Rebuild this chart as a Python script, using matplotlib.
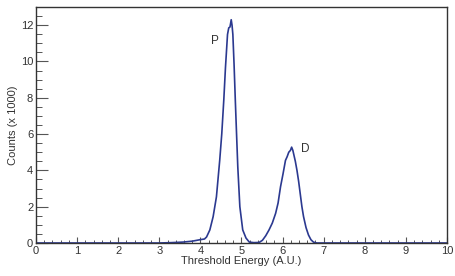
import matplotlib
matplotlib.use("Agg")
from matplotlib import pyplot as plt
from matplotlib.ticker import MultipleLocator

plt.rcParams['font.family'] = ['Liberation Sans', 'DejaVu Sans']

# spectrum (energy in A.U., counts in thousands)
energy = [0.0, 1.0, 2.0, 3.0, 3.3, 3.58, 3.8, 3.99, 4.1, 4.15, 4.23, 4.31, 4.39, 4.47,
          4.52, 4.57, 4.61, 4.66, 4.69, 4.72, 4.75, 4.77, 4.79, 4.82, 4.85, 4.88,
          4.91, 4.96, 5.03, 5.11, 5.19, 5.3, 5.43, 5.51, 5.59, 5.67, 5.75, 5.83,
          5.89, 5.95, 6.01, 6.07, 6.11, 6.15, 6.19, 6.22, 6.25, 6.27, 6.31, 6.35,
          6.39, 6.43, 6.47, 6.51, 6.57, 6.63, 6.69, 6.75, 6.83, 7.0, 8.0, 9.0, 10.0]
counts = [0.0, 0.0, 0.0, 0.0, 0.02, 0.05, 0.1, 0.18, 0.22, 0.33, 0.72, 1.45, 2.54, 4.55,
          6.01, 7.9, 9.66, 11.49, 11.85, 11.9, 12.3, 12.0, 11.49, 9.8, 7.84, 6.0,
          4.19, 2.0, 0.72, 0.27, 0.05, 0.02, 0.03, 0.15, 0.4, 0.72, 1.1, 1.63,
          2.2, 3.1, 3.8, 4.55, 4.75, 5.0, 5.1, 5.28, 5.1, 4.9, 4.5, 4.0,
          3.4, 2.7, 2.0, 1.45, 0.85, 0.44, 0.18, 0.05, 0.0, 0.0, 0.0, 0.0, 0.0]

fig = plt.figure(figsize=(4.55, 2.76), dpi=100)
ax = fig.add_axes([0.0791, 0.1196, 0.9033, 0.855])

ax.plot(energy, counts, color="#2b3990", lw=1.2)

ax.text(4.36, 11.1, "P", fontsize=8.5, color="#333333", ha="center", va="center")
ax.text(6.55, 5.2, "D", fontsize=8.5, color="#333333", ha="center", va="center")

ax.set_xlim(0, 10)
ax.set_ylim(0, 13)
ax.xaxis.set_major_locator(MultipleLocator(1))
ax.xaxis.set_minor_locator(MultipleLocator(0.2))
ax.yaxis.set_major_locator(MultipleLocator(2))
ax.yaxis.set_minor_locator(MultipleLocator(0.5))

ax.tick_params(axis="x", which="major", direction="in", length=4.5, width=0.8,
               color="#555555", labelsize=8, labelcolor="#333333", pad=2)
ax.tick_params(axis="x", which="minor", direction="in", length=2.2, width=0.7, color="#555555")
ax.tick_params(axis="y", which="major", direction="in", length=8.6, width=0.8,
               color="#555555", labelsize=8, labelcolor="#333333", pad=2)
ax.tick_params(axis="y", which="minor", direction="in", length=4.3, width=0.7, color="#555555")

for s in ax.spines.values():
    s.set_color("#333333")
    s.set_linewidth(1.0)

ax.set_xlabel("Threshold Energy (A.U.)", fontsize=8, color="#333333", labelpad=0)
ax.set_ylabel("Counts (x 1000)", fontsize=8, color="#333333", labelpad=2)

fig.savefig("out.png", dpi=100)
